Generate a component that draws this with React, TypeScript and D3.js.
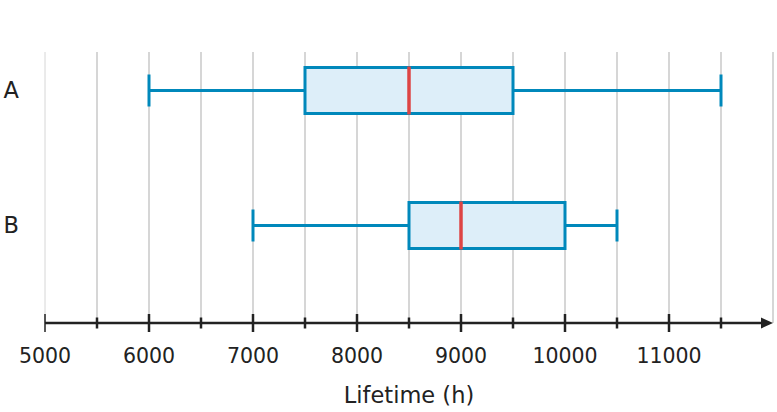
import React from "react";
import * as d3 from "d3";

const categories = ["A", "B"];
const mins = [6000, 7000];
const q1s = [7500, 8500];
const medians = [8500, 9000];
const q3s = [9500, 10000];
const maxs = [11500, 10500];
const majorTicks = [5000, 6000, 7000, 8000, 9000, 10000, 11000];
const minorTicks = [5500, 6500, 7500, 8500, 9500, 10500, 11500];
const gridValues = d3.range(5000, 12001, 500);
const xTitle = "Lifetime (h)";

const W = 777;
const H = 412;
const FONT = "'DejaVu Sans', sans-serif";

export default function App() {
  const x = d3.scaleLinear().domain([5000, 12000]).range([45, 773]);
  const y = d3.scaleBand().domain(categories).range([23, 293]).paddingInner(0.66).paddingOuter(0.33);
  const axisY = 323;
  const blue = "#0088bb";
  const red = "#dd4444";
  const boxH = 46;
  const capH = 32;

  return (
    <svg width={W} height={H} style={{ position: "absolute", left: 0, top: 0, background: "#fff" }}>
      {gridValues.map((v) => (
        <line key={v} x1={x(v)} x2={x(v)} y1={52} y2={axisY} stroke="#d6d6d6" strokeWidth={v === 5000 ? 1 : 2} />
      ))}
      {categories.map((c, i) => {
        const cy = (y(c) as number) + y.bandwidth() / 2;
        return (
          <g key={c}>
            <line x1={x(mins[i])} x2={x(q1s[i])} y1={cy} y2={cy} stroke={blue} strokeWidth={3} />
            <line x1={x(q3s[i])} x2={x(maxs[i])} y1={cy} y2={cy} stroke={blue} strokeWidth={3} />
            <line x1={x(mins[i])} x2={x(mins[i])} y1={cy - capH / 2} y2={cy + capH / 2} stroke={blue} strokeWidth={3} />
            <line x1={x(maxs[i])} x2={x(maxs[i])} y1={cy - capH / 2} y2={cy + capH / 2} stroke={blue} strokeWidth={3} />
            <rect x={x(q1s[i])} y={cy - boxH / 2} width={x(q3s[i]) - x(q1s[i])} height={boxH} fill="#ddeef9" stroke={blue} strokeWidth={3} />
            <line x1={x(medians[i])} x2={x(medians[i])} y1={cy - boxH / 2 - 1} y2={cy + boxH / 2 + 1} stroke={red} strokeWidth={3.5} />
            <text x={3.5} y={cy + 7.5} fontFamily={FONT} fontSize={22.5} fill="#222">{c}</text>
          </g>
        );
      })}
      <line x1={x(5000)} x2={763} y1={axisY} y2={axisY} stroke="#222" strokeWidth={2.5} />
      <path d={`M761,${axisY - 5.5} L773,${axisY} L761,${axisY + 5.5} Z`} fill="#222" />
      {majorTicks.map((v) => (
        <g key={v}>
          <line x1={x(v)} x2={x(v)} y1={axisY - 9} y2={axisY + 9} stroke="#222" strokeWidth={v === 5000 ? 1.5 : 2.5} />
          <text x={x(v)} y={363} textAnchor="middle" fontFamily={FONT} fontSize={20.5} fill="#222">{d3.format("d")(v)}</text>
        </g>
      ))}
      {minorTicks.map((v) => (
        <line key={v} x1={x(v)} x2={x(v)} y1={axisY - 5.5} y2={axisY + 5.5} stroke="#222" strokeWidth={2.5} />
      ))}
      <text x={409} y={403} textAnchor="middle" fontFamily={FONT} fontSize={22.5} fill="#222">{xTitle}</text>
    </svg>
  );
}
